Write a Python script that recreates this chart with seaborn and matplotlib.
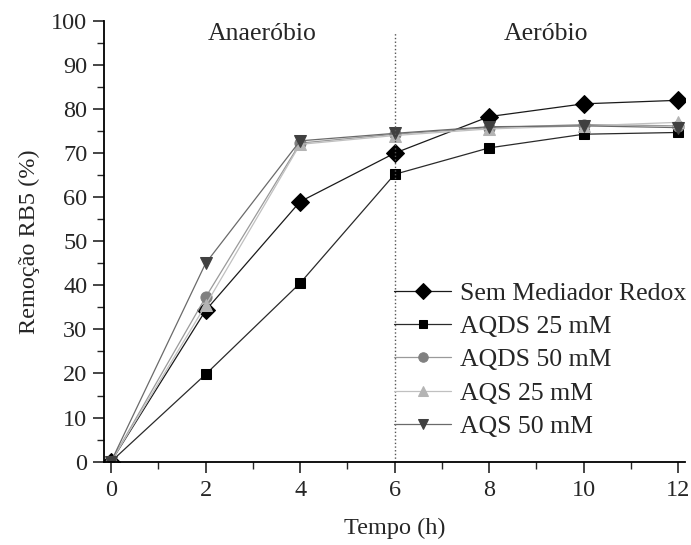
import pandas as pd
import matplotlib.pyplot as plt
import seaborn as sns

# data
tempo = [0, 2, 4, 6, 8, 10, 12]
sem_mediador = [0, 34.3, 59.0, 70.0, 78.3, 81.2, 82.0]
aqds_25 = [0, 19.8, 40.5, 65.2, 71.2, 74.3, 74.7]
aqds_50 = [0, 37.3, 72.3, 74.3, 75.8, 76.5, 76.2]
aqs_25 = [0, 35.5, 72.0, 74.0, 75.5, 76.2, 77.0]
aqs_50 = [0, 45.0, 72.8, 74.5, 76.0, 76.2, 75.8]

series = ['Sem Mediador Redox', 'AQDS 25 mM', 'AQDS 50 mM', 'AQS 25 mM', 'AQS 50 mM']
values = [sem_mediador, aqds_25, aqds_50, aqs_25, aqs_50]
markers = ['D', 's', 'o', '^', 'v']
sizes = [9, 7.5, 8, 8.5, 9]
colors = ['#000000', '#000000', '#808080', '#b4b4b4', '#404040']
line_colors = ['#1a1a1a', '#2a2a2a', '#9a9a9a', '#c0c0c0', '#6a6a6a']

df = pd.DataFrame({'Tempo': tempo * len(series),
                   'Remocao': sum(values, []),
                   'Serie': [s for s in series for _ in tempo]})

sns.set_style('ticks')
plt.rcParams['font.family'] = ['Liberation Serif', 'DejaVu Serif']

fig = plt.figure(figsize=(6.91, 5.45), dpi=100)
ax = fig.add_axes([0.1505, 0.153, 0.8405, 0.8085])

for s, m, ms, c, lc in zip(series, markers, sizes, colors, line_colors):
    sns.lineplot(data=df[df['Serie'] == s], x='Tempo', y='Remocao', ax=ax,
                 marker=m, markersize=ms, color=lc, markerfacecolor=c,
                 markeredgecolor=c, linewidth=0.9, label=s)

ax.plot([6, 6], [0, 97.5], color='#555555', linestyle=':', linewidth=1.0)
ax.text(3.2, 97.0, 'Anaeróbio', ha='center', va='center', fontsize=18.5)
ax.text(9.2, 97.0, 'Aeróbio', ha='center', va='center', fontsize=18.5)

ax.set_xlim(-0.15, 12.14)
ax.set_ylim(0, 100)
ax.set_xticks(range(0, 13, 2))
ax.set_xticks(range(1, 13, 2), minor=True)
ax.set_yticks(range(0, 101, 10))
ax.set_yticks(range(5, 100, 10), minor=True)
ax.tick_params(axis='both', which='major', labelsize=17.5, length=8, width=1.2, direction='out')
ax.tick_params(axis='both', which='minor', length=5, width=1.0, direction='out')
ax.tick_params(axis='x', which='major', pad=5)
ax.tick_params(axis='y', which='major', pad=4)
ax.set_xlabel('Tempo (h)', fontsize=17.5, labelpad=12)
ax.set_ylabel('Remoção RB5 (%)', fontsize=17.5, labelpad=8)

sns.despine(ax=ax)
for sp in ['left', 'bottom']:
    ax.spines[sp].set_linewidth(1.3)
    ax.spines[sp].set_color('black')

ax.legend(loc='upper left', bbox_to_anchor=(0.50, 0.408), frameon=False,
          fontsize=18.5, handlelength=2.2, handletextpad=0.35, labelspacing=0.40,
          borderpad=0, borderaxespad=0, markerscale=0.85)

plt.savefig('out.png', dpi=100)
